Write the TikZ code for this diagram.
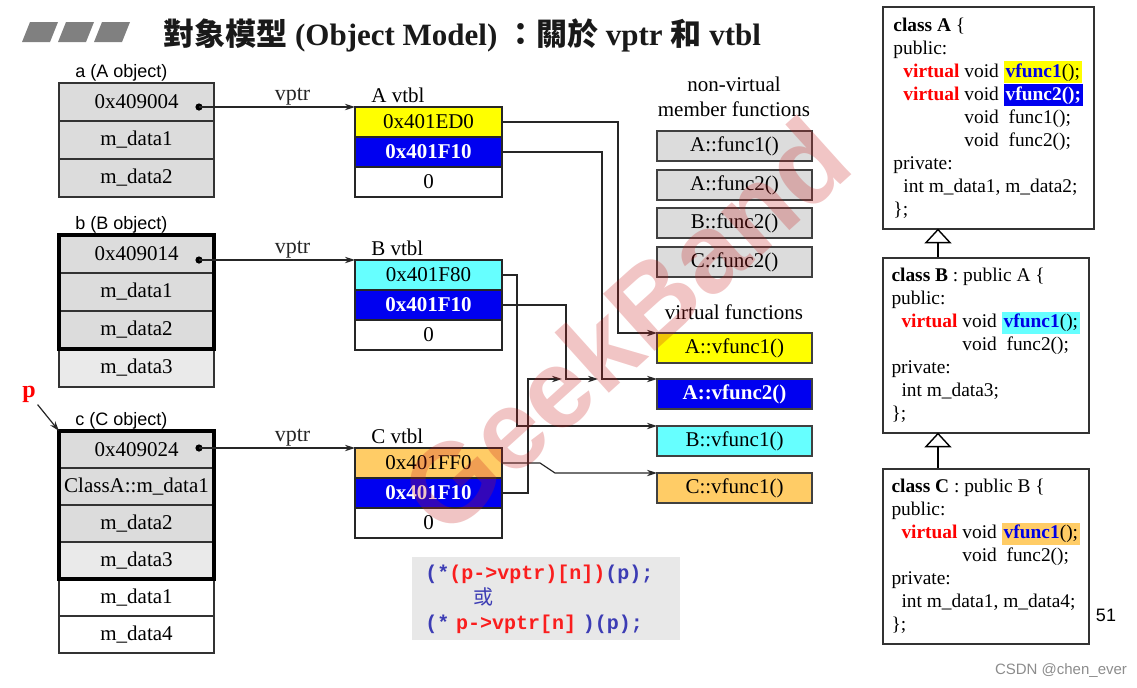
\documentclass[tikz,border=0pt]{standalone}
\usepackage{fontspec}
\setmainfont{Liberation Serif}
\setsansfont{Liberation Sans}
\setmonofont{Liberation Mono}
\newfontfamily\cjkfont{Noto Sans CJK TC}
\usepackage{xcolor}
\usetikzlibrary{positioning, arrows.meta}

\definecolor{objgray}{RGB}{220,220,220}
\definecolor{marble}{RGB}{234,234,234}
\definecolor{vyellow}{RGB}{255,255,0}
\definecolor{vblue}{RGB}{0,0,240}
\definecolor{vcyan}{RGB}{102,255,255}
\definecolor{vorange}{RGB}{255,204,102}
\definecolor{codegray}{RGB}{232,232,232}
\definecolor{codeblue}{RGB}{60,60,180}
\definecolor{codered}{RGB}{250,30,30}
\definecolor{kwred}{RGB}{255,0,0}
\definecolor{fnblue}{RGB}{0,0,230}
\definecolor{titlegray}{RGB}{128,128,128}
\definecolor{wmred}{RGB}{200,30,30}

\setlength{\fboxsep}{1pt}
\newcommand{\hlbox}[2]{\smash{\colorbox{#1}{#2}}}

\tikzset{
  objrow/.style={draw=black!80, line width=0.6pt, fill=objgray, minimum width=77.5pt,
    minimum height=19pt, inner sep=0pt, outer sep=0pt, font=\fontsize{10.5}{12}\selectfont},
  crow/.style={objrow, minimum height=18.5pt},
  vtrow/.style={draw=black!85, line width=0.7pt, fill=white, minimum width=73.5pt,
    minimum height=15pt, inner sep=0pt, outer sep=0pt, font=\fontsize{10.5}{12}\selectfont},
  vtblue/.style={vtrow, fill=vblue, text=white, font=\fontsize{10.5}{12}\selectfont\bfseries},
  fnbox/.style={draw=black!75, line width=0.6pt, fill=objgray, minimum width=77.5pt,
    minimum height=15pt, inner sep=0pt, outer sep=0pt, font=\fontsize{10.5}{12}\selectfont},
  tag/.style={inner sep=0pt, font=\fontsize{10.5}{12}\selectfont},
  objtag/.style={inner sep=0pt, anchor=base west, font=\sffamily\fontsize{9}{10}\selectfont},
  ptr/.style={-{Stealth[length=5pt,width=3.2pt]}, line width=0.6pt, black!85},
  classbox/.style={draw=black!80, line width=0.8pt, fill=white, align=left, anchor=north west,
    inner xsep=3pt, inner ysep=0pt, font=\fontsize{9.7}{11.5}\selectfont},
  codebox/.style={fill=codegray, align=left, anchor=north west, inner xsep=6.5pt,
    font=\ttfamily\bfseries\fontsize{10}{12.5}\selectfont},
  wmark/.style={text=wmred, opacity=0.26, font=\sffamily\bfseries\fontsize{56}{56}\selectfont}
}

\begin{document}
\begin{tikzpicture}[x=0.5pt, y=-0.5pt]
  \useasboundingbox (0,0) rectangle (1137,687);

  % Title bar
  \foreach \i in {0,1,2}
    \fill[titlegray] (22+36*\i,42) -- ++(28,0) -- ++(8,-20) -- ++(-28,0) -- cycle;
  \node[anchor=base west, inner sep=0pt, text=black!90, font=\bfseries\fontsize{15.5}{18}\selectfont] (title) at (163,45)
    {{\cjkfont 對象模型} (Object Model) {\cjkfont ：關於} vptr {\cjkfont 和} vtbl};

  % a (A object)
  \node[objrow, anchor=north west] (aaddr) at (59,83) {0x409004};
  \node[objrow, below=0pt of aaddr] (ad1) {m\_data1};
  \node[objrow, below=0pt of ad1] (ad2) {m\_data2};
  \node[objtag] (alab) at ([xshift=8pt,yshift=3pt]aaddr.north west) {a (A object)};

  % b (B object)
  \node[objrow, anchor=north west] (baddr) at (59,235) {0x409014};
  \node[objrow, below=0pt of baddr] (bd1) {m\_data1};
  \node[objrow, below=0pt of bd1] (bd2) {m\_data2};
  \node[objrow, fill=marble, below=0pt of bd2] (bd3) {m\_data3};
  \draw[line width=2pt] (baddr.north west) rectangle (bd2.south east);
  \node[objtag] (blab) at ([xshift=8pt,yshift=3pt]baddr.north west) {b (B object)};

  % c (C object)
  \node[crow, anchor=north west] (caddr) at (59,431) {0x409024};
  \node[crow, below=0pt of caddr] (cd1) {ClassA::m\_data1};
  \node[crow, below=0pt of cd1] (cd2) {m\_data2};
  \node[crow, fill=marble, below=0pt of cd2] (cd3) {m\_data3};
  \node[crow, fill=white, below=0pt of cd3] (cd4) {m\_data1};
  \node[crow, fill=white, below=0pt of cd4] (cd5) {m\_data4};
  \draw[line width=2pt] (caddr.north west) rectangle (cd3.south east);
  \node[objtag] (clab) at ([xshift=8pt,yshift=3pt]caddr.north west) {c (C object)};

  % pointer p
  \node[text=red, inner sep=1pt, font=\bfseries\fontsize{12}{14}\selectfont] (p) at (29,394) {p};
  \draw[ptr] (p) -- (caddr.north west);

  % vtbls
  \node[vtrow, fill=vyellow, anchor=north west] (avt1) at (355,107) {0x401ED0};
  \node[vtblue, below=0pt of avt1] (avt2) {0x401F10};
  \node[vtrow, below=0pt of avt2] (avt3) {0};
  \node[tag, anchor=south west] (avtlab) at ([xshift=8pt,yshift=2pt]avt1.north west) {A vtbl};

  \node[vtrow, fill=vcyan, anchor=north west] (bvt1) at (355,260) {0x401F80};
  \node[vtblue, below=0pt of bvt1] (bvt2) {0x401F10};
  \node[vtrow, below=0pt of bvt2] (bvt3) {0};
  \node[tag, anchor=south west] (bvtlab) at ([xshift=8pt,yshift=2pt]bvt1.north west) {B vtbl};

  \node[vtrow, fill=vorange, anchor=north west] (cvt1) at (355,448) {0x401FF0};
  \node[vtblue, below=0pt of cvt1] (cvt2) {0x401F10};
  \node[vtrow, below=0pt of cvt2] (cvt3) {0};
  \node[tag, anchor=south west] (cvtlab) at ([xshift=8pt,yshift=2pt]cvt1.north west) {C vtbl};

  % vptr arrows
  \coordinate (adot) at (199,107);
  \coordinate (bdot) at (199,260);
  \coordinate (cdot) at (199,448);
  \foreach \o in {a,b,c} {
    \fill (\o dot) circle (1.8pt);
    \draw[ptr] (\o dot) -- node[pos=0.6, above, inner sep=0.5pt, font=\fontsize{11}{12}\selectfont] {vptr} (\o vt1.north west);
  }

  % member functions
  \node[tag, align=center, font=\fontsize{10.5}{12.5}\selectfont] (nvlab) at (734,97) {non-virtual\\member functions};
  \node[fnbox, anchor=north west] (nf1) at (657,131) {A::func1()};
  \node[fnbox, anchor=north west] (nf2) at (657,170) {A::func2()};
  \node[fnbox, anchor=north west] (nf3) at (657,208) {B::func2()};
  \node[fnbox, anchor=north west] (nf4) at (657,247) {C::func2()};

  \node[tag] (vlab) at (734,312) {virtual functions};
  \node[fnbox, fill=vyellow, anchor=north west] (va1) at (657,333) {A::vfunc1()};
  \node[fnbox, fill=vblue, text=white, font=\fontsize{10.5}{12}\selectfont\bfseries, anchor=north west] (va2) at (657,379) {A::vfunc2()};
  \node[fnbox, fill=vcyan, anchor=north west] (vb1) at (657,426) {B::vfunc1()};
  \node[fnbox, fill=vorange, anchor=north west] (vc1) at (657,473) {C::vfunc1()};

  % vtbl slots to functions
  \coordinate (jA) at (602,379);
  \coordinate (jB) at (566,379);
  \coordinate (cup) at (528,379);
  \coordinate (chop) at (555,473);
  \draw[ptr] (avt1.east) -- ++(116,0) |- (va1.north west);
  \draw[ptr] (avt2.east) -| (jA) -- (va2.north west);
  \draw[ptr, shorten >=2pt] (bvt2.east) -| (jB) -- (jA);
  \draw[ptr, shorten >=2pt] (cvt2.east) -| (cup) -- (jB);
  \draw[ptr] (bvt1.east) -- ++(15,0) |- (vb1.north west);
  \draw[ptr] (cvt1.east) -- ++(38,0) -- (chop) -- (vc1.north west);

  % call syntax
  \node[codebox, text width=121pt, minimum height=41.5pt] (code) at (412,557)
    {\textcolor{codeblue}{(*}\textcolor{codered}{(p->vptr)[n])}\textcolor{codeblue}{(p);}\\
     \hspace*{24pt}\textcolor{codeblue}{\cjkfont\mdseries 或}\\
     \textcolor{codeblue}{(*\ }\textcolor{codered}{p->vptr[n]\ }\textcolor{codeblue}{)(p);}};

  % class declarations
  \node[classbox, minimum width=105.5pt, minimum height=111pt] (clsA) at (882,6)
    {\textbf{class A} \{\\
     public:\\
     \hspace*{5pt}\textcolor{kwred}{\textbf{virtual}} void \hlbox{vyellow}{\textcolor{fnblue}{\textbf{vfunc1}}();}\\
     \hspace*{5pt}\textcolor{kwred}{\textbf{virtual}} void \hlbox{vblue}{\textcolor{white}{\textbf{vfunc2();}}}\\
     \hspace*{5pt}\phantom{\textbf{virtual} }void\ \ func1();\\
     \hspace*{5pt}\phantom{\textbf{virtual} }void\ \ func2();\\
     private:\\
     \hspace*{5pt}int m\_data1, m\_data2;\\
     \};};
  \node[classbox, minimum width=103pt, minimum height=87.5pt] (clsB) at (882,257)
    {\textbf{class B} : public A \{\\
     public:\\
     \hspace*{5pt}\textcolor{kwred}{\textbf{virtual}} void \hlbox{vcyan}{\textcolor{fnblue}{\textbf{vfunc1}}();}\\
     \hspace*{5pt}\phantom{\textbf{virtual} }void\ \ func2();\\
     private:\\
     \hspace*{5pt}int m\_data3;\\
     \};};
  \node[classbox, minimum width=103pt, minimum height=87.5pt] (clsC) at (882,468)
    {\textbf{class C} : public B \{\\
     public:\\
     \hspace*{5pt}\textcolor{kwred}{\textbf{virtual}} void \hlbox{vorange}{\textcolor{fnblue}{\textbf{vfunc1}}();}\\
     \hspace*{5pt}\phantom{\textbf{virtual} }void\ \ func2();\\
     private:\\
     \hspace*{5pt}int m\_data1, m\_data4;\\
     \};};

  % inheritance
  \coordinate (inhAB) at ([xshift=28pt]clsA.south west);
  \coordinate (inhBC) at ([xshift=28pt]clsB.south west);
  \draw[line width=0.7pt] (inhAB) ++(0,13) -- (inhAB |- clsB.north);
  \draw[line width=0.7pt] (inhBC) ++(0,13) -- (inhBC |- clsC.north);
  \draw[line width=0.7pt, fill=white] (inhAB) -- ++(-12,13) -- ++(24,0) -- cycle;
  \draw[line width=0.7pt, fill=white] (inhBC) -- ++(-12,13) -- ++(24,0) -- cycle;

  % page number and credit
  \node[inner sep=0pt, font=\sffamily\fontsize{9}{10}\selectfont] (pnum) at (1106,615) {51};
  \node[inner sep=0pt, text=black!45, font=\sffamily\fontsize{7.5}{9}\selectfont] (csdn) at (1061,671) {CSDN @chen\_ever};

  % watermark
  \node[wmark, rotate=42] (wm) at (625,325) {GeekBand};
\end{tikzpicture}
\end{document}
